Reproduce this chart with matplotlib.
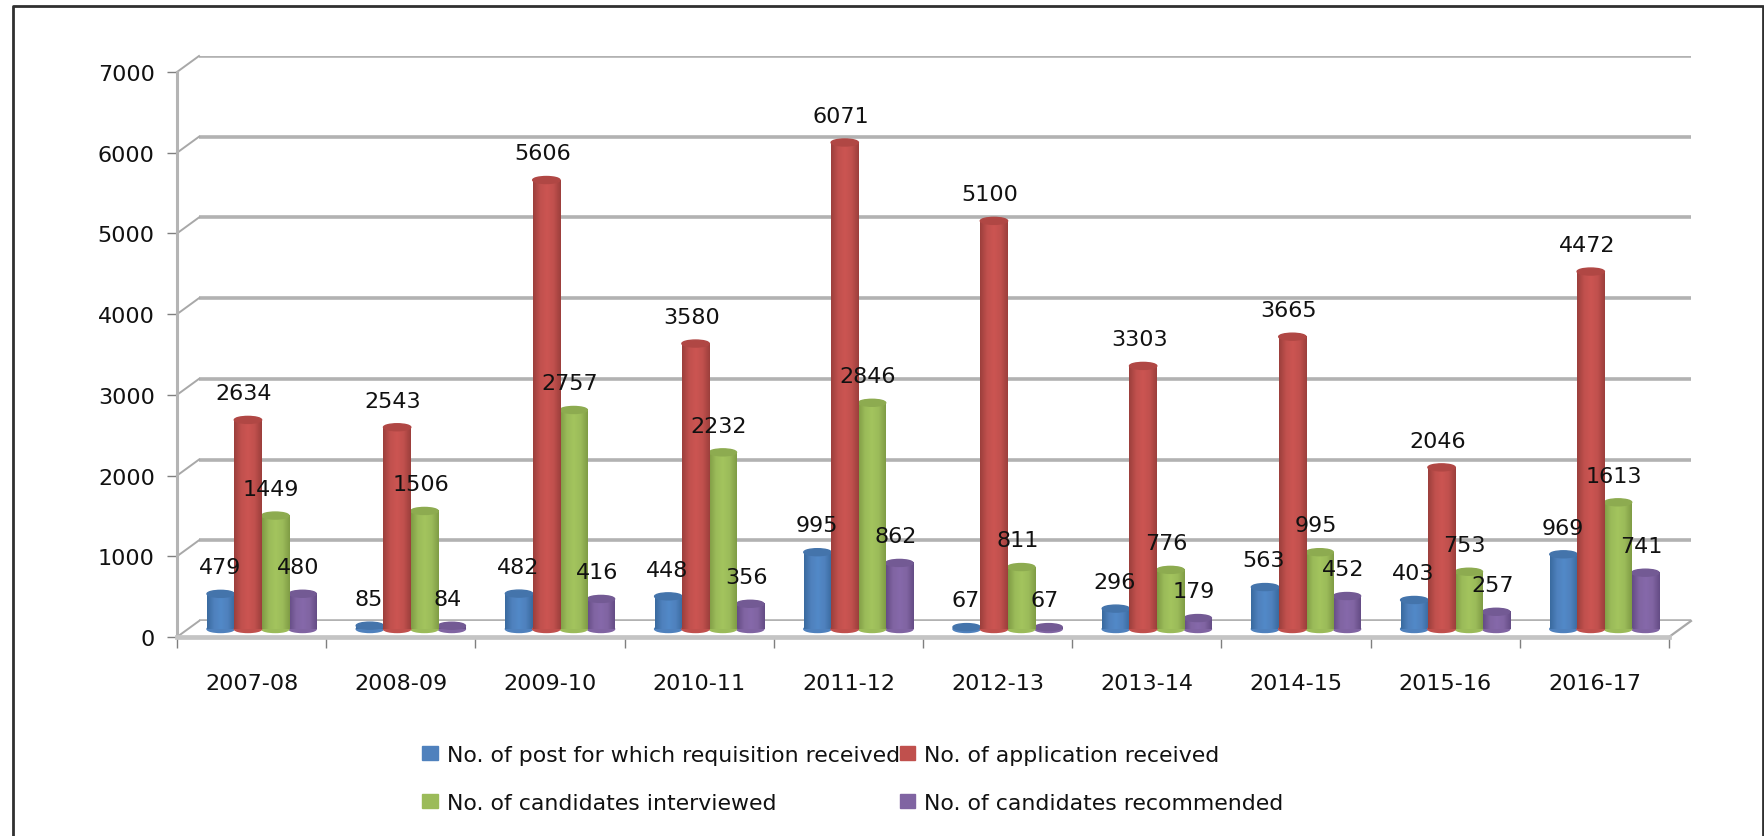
import numpy as np
import matplotlib
matplotlib.use("Agg")
import matplotlib.pyplot as plt
from matplotlib.colors import LinearSegmentedColormap
from matplotlib.patches import Ellipse, Rectangle

years = ["2007-08", "2008-09", "2009-10", "2010-11", "2011-12",
         "2012-13", "2013-14", "2014-15", "2015-16", "2016-17"]
posts = [479, 85, 482, 448, 995, 67, 296, 563, 403, 969]
applications = [2634, 2543, 5606, 3580, 6071, 5100, 3303, 3665, 2046, 4472]
interviewed = [1449, 1506, 2757, 2232, 2846, 811, 776, 995, 753, 1613]
recommended = [480, 84, 416, 356, 862, 67, 179, 452, 257, 741]
names = ["No. of post for which requisition received", "No. of application received",
         "No. of candidates interviewed", "No. of candidates recommended"]
y_ticks = [0, 1000, 2000, 3000, 4000, 5000, 6000, 7000]

W, H = 1765, 837
plt.rcParams["font.family"] = "DejaVu Sans"
fig = plt.figure(figsize=(W / 100, H / 100), dpi=100)


# axes placed by pixel box, y measured from the top of the picture
def px_axes(x0, x1, y_bottom, y_top):
    return fig.add_axes([x0 / W, 1 - y_bottom / H, (x1 - x0) / W, (y_bottom - y_top) / H])


# outer frame (bottom edge is cut off in the original)
frame_x = [13.5 / W, 13.5 / W, 1763.5 / W, 1763.5 / W]
frame_y = [0, 1 - 7 / H, 1 - 7 / H, 0]
fig.add_artist(plt.Line2D(frame_x, frame_y, color="#303030", lw=2))

# back wall: only the gridlines
back = px_axes(199, 1691, 622, 57)
back.set_xlim(0, 10)
back.set_ylim(0, 7000)
back.set_yticks(y_ticks)
back.set_xticks([])
back.tick_params(length=0, labelleft=False)
back.grid(axis="y", color="#b2b2b2", lw=2.6)
back.patch.set_visible(False)
for s in back.spines.values():
    s.set_visible(False)

# front plane: ticks and tick labels
front = px_axes(177, 1669, 638, 73)
front.set_xlim(0, 10)
front.set_ylim(0, 7000)
front.patch.set_visible(False)
front.set_yticks(y_ticks)
front.set_xticks(np.arange(11))
front.set_xticklabels([])
front.set_xticks(np.arange(10) + 0.5, years, minor=True)
front.tick_params(axis="y", length=7, width=1, color="#7f7f7f", labelsize=16, pad=9, labelcolor="#111111")
front.tick_params(axis="x", which="major", length=8, width=1, color="#7f7f7f")
front.tick_params(axis="x", which="minor", length=0, labelsize=16, pad=26, labelcolor="#111111")
for side in ["top", "right"]:
    front.spines[side].set_visible(False)
front.spines["left"].set_color("#b4b4b4")
front.spines["left"].set_linewidth(2.2)
front.spines["bottom"].set_color("#c4c4c4")
front.spines["bottom"].set_linewidth(3.4)

# slanted side wall and floor edges
depth_x = 22 / 149.2
depth_y = 16 / 80.7 * 1000
for v in y_ticks:
    front.plot([0, depth_x], [v, v + depth_y], color="#a8a8a8", lw=1.4, clip_on=False)
front.plot([10, 10 + depth_x], [0, depth_y], color="#a8a8a8", lw=1.6, clip_on=False)

# bars sit on a plane between front and back
ax = px_axes(187, 1679, 630, 65)
ax.patch.set_visible(False)
ax.axis("off")

series = [posts, applications, interviewed, recommended]
colors = ["#4F81BD", "#C0504D", "#9BBB59", "#8064A2"]
darks = ["#3a6a9f", "#9c3f3c", "#7f9c45", "#644c85"]
lights = ["#5289c8", "#cc5552", "#a3c45e", "#8669aa"]
tops = ["#4474ab", "#b04744", "#8dab50", "#735a94"]
bar_w = 0.183
cap = 7 / 80.7 * 1000
label_dx = [-1, -4, -4, -4]

# drawing order: outer bars first so the red and green ones overlap them
for s in [0, 3, 2, 1]:
    cmap = LinearSegmentedColormap.from_list("cyl", [darks[s], colors[s], lights[s], colors[s], darks[s]])
    shade = np.linspace(0, 1, 64).reshape(1, -1)
    z = {0: 2, 3: 3, 2: 4, 1: 5}[s]
    for i, val in enumerate(series[s]):
        x0 = i + 0.5 + (s - 2) * bar_w
        body_top = max(val - cap / 2, 0)
        ax.add_patch(Ellipse((x0 + bar_w / 2, 0), bar_w, cap, color=colors[s], zorder=z, clip_on=False))
        ax.imshow(shade, cmap=cmap, aspect="auto", extent=(x0, x0 + bar_w, 0, body_top),
                  zorder=z, interpolation="bilinear")
        ax.add_patch(Ellipse((x0 + bar_w / 2, body_top), bar_w, cap, color=tops[s], zorder=z, clip_on=False))

for s in range(4):
    for i, val in enumerate(series[s]):
        x0 = i + 0.5 + (s - 2) * bar_w
        ax.annotate(str(val), (x0 + bar_w / 2, val), xytext=(label_dx[s] * 0.72, 9.5),
                    textcoords="offset points", ha="center", va="bottom",
                    fontsize=16, color="#111111", zorder=10)

ax.set_xlim(0, 10)
ax.set_ylim(0, 7000)

handles = [Rectangle((0, 0), 1, 1, color=c) for c in colors]
order = [0, 2, 1, 3]
fig.legend([handles[k] for k in order], [names[k] for k in order], ncols=2,
           loc="upper left", bbox_to_anchor=(411 / W, 1 - 735 / H), frameon=False,
           fontsize=15.8, handlelength=0.72, handleheight=0.6, handletextpad=0.4,
           columnspacing=0.0, labelspacing=1.27, labelcolor="#111111", borderpad=0)

fig.savefig("out.png", dpi=100)
